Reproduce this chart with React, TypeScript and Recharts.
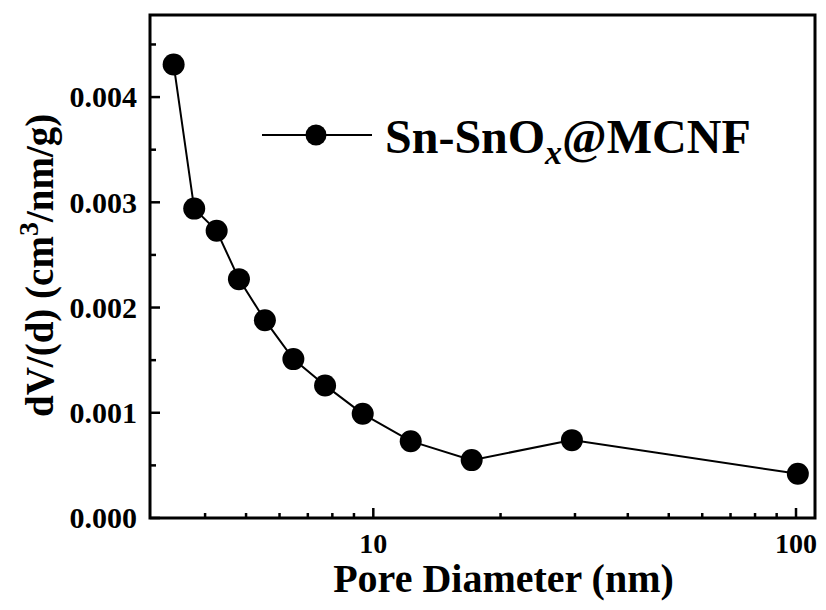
import React from 'react';
import {
  LineChart,
  Line,
  XAxis,
  YAxis,
  Legend,
  ReferenceArea,
} from 'recharts';

// pore size distribution
const poreDiameter = [3.37, 3.77, 4.26, 4.81, 5.54, 6.47, 7.69, 9.44, 12.26, 17.09, 29.5, 101];
const dvdd = [0.00431, 0.00294, 0.00273, 0.00227, 0.00188, 0.00151, 0.00126, 0.00099, 0.00073, 0.00055, 0.00074, 0.00042];

const xTicks = [4, 5, 6, 7, 8, 9, 10, 20, 30, 40, 50, 60, 70, 80, 90, 100];
const xLabelTicks = [10, 100];
const yTicks = [0, 0.0005, 0.001, 0.0015, 0.002, 0.0025, 0.003, 0.0035, 0.004, 0.0045];
const yLabelTicks = [0, 0.001, 0.002, 0.003, 0.004];

const X_MIN = 2.963;
const X_MAX = 110.9;
const Y_MAX = 0.00478;

const FONT = '"Liberation Serif", "Times New Roman", serif';

const data = poreDiameter.map((d, i) => ({ d, v: dvdd[i] }));

const isOneOf = (v: number, list: number[]) => list.some((t) => Math.abs(t - v) < 1e-9);

const XTick = (props: any) => {
  const { x, y, payload } = props;
  const major = isOneOf(payload.value, xLabelTicks);
  return (
    <g>
      <line x1={x} x2={x} y1={y} y2={y - (major ? 10 : 5)} stroke="#000" strokeWidth={2.5} />
      {major && (
        <text x={x} y={y + 35} textAnchor="middle" fontFamily={FONT} fontWeight="bold" fontSize={28} fill="#000">
          {payload.value}
        </text>
      )}
    </g>
  );
};

const YTick = (props: any) => {
  const { x, y, payload } = props;
  const major = isOneOf(payload.value, yLabelTicks);
  return (
    <g>
      <line x1={x} x2={x + (major ? 10 : 6)} y1={y} y2={y} stroke="#000" strokeWidth={2.5} />
      {major && (
        <text x={x - 13} y={y} dy="0.34em" textAnchor="end" fontFamily={FONT} fontWeight="bold" fontSize={30} fill="#000">
          {payload.value.toFixed(3)}
        </text>
      )}
    </g>
  );
};

// title starts at the bottom (just beside the 0.001 label) and runs upward
const renderYTitle = (props: any) => {
  const vb = props.viewBox || { x: 0, y: 15, width: 150, height: 503 };
  const cx = vb.x + 53;
  const cy = vb.y + 402;
  return (
    <text
      x={cx}
      y={cy}
      transform={`rotate(-90, ${cx}, ${cy})`}
      textAnchor="start"
      fontFamily={FONT}
      fontWeight="bold"
      fontSize={39}
      fill="#000"
    >
      dV/(d) (cm<tspan fontSize={28} dy={-15}>3</tspan>
      <tspan dy={15}>/nm/g)</tspan>
    </text>
  );
};

const renderXTitle = (props: any) => {
  const vb = props.viewBox || { x: 150, y: 518, width: 665, height: 92 };
  return (
    <text
      x={vb.x + vb.width / 2 + 21}
      y={vb.y + 74}
      textAnchor="middle"
      fontFamily={FONT}
      fontWeight="bold"
      fontSize={40}
      fill="#000"
    >
      Pore Diameter (nm)
    </text>
  );
};

const renderLegend = () => (
  <svg width={826} height={200} style={{ display: 'block', overflow: 'visible' }}>
    <line x1={262} x2={372} y1={135} y2={135} stroke="#000" strokeWidth={2} />
    <circle cx={316} cy={135} r={10.5} fill="#000" />
    <text x={385} y={153} fontFamily={FONT} fontWeight="bold" fontSize={48} fill="#000">
      Sn-SnO
      <tspan fontStyle="italic" fontSize={34} dy={11}>x</tspan>
      <tspan dy={-11}>@MCNF</tspan>
    </text>
  </svg>
);

export default function App() {
  return (
    <div style={{ position: 'absolute', left: 0, top: 0, width: 826, height: 610, background: '#fff' }}>
      <LineChart width={826} height={610} data={data} margin={{ top: 15, right: 11, bottom: 0, left: 0 }}>
        <XAxis
          dataKey="d"
          type="number"
          scale="log"
          domain={[X_MIN, X_MAX]}
          allowDataOverflow
          ticks={xTicks}
          interval={0}
          tick={<XTick />}
          tickLine={false}
          tickSize={0}
          tickMargin={0}
          axisLine={false}
          height={92}
          label={{ content: renderXTitle }}
        />
        <YAxis
          type="number"
          domain={[0, Y_MAX]}
          allowDataOverflow
          ticks={yTicks}
          interval={0}
          tick={<YTick />}
          tickLine={false}
          tickSize={0}
          tickMargin={0}
          axisLine={false}
          width={150}
          label={{ content: renderYTitle }}
        />
        <ReferenceArea
          x1={X_MIN}
          x2={X_MAX}
          y1={0}
          y2={Y_MAX}
          fill="none"
          stroke="#000"
          strokeWidth={3}
          ifOverflow="visible"
        />
        <Legend
          content={renderLegend}
          layout="horizontal"
          verticalAlign="middle"
          align="center"
          wrapperStyle={{ left: 0, top: 0, width: 826, height: 0 }}
        />
        <Line
          type="linear"
          dataKey="v"
          stroke="#000"
          strokeWidth={2}
          dot={{ r: 11, fill: '#000', stroke: '#000', strokeWidth: 0 }}
          isAnimationActive={false}
        />
      </LineChart>
    </div>
  );
}
